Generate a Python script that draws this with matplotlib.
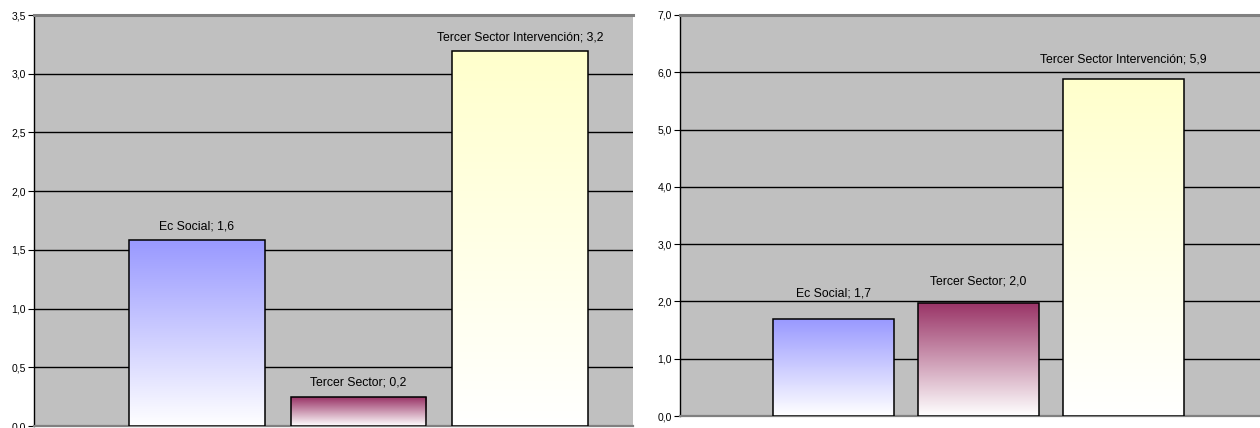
import numpy as np
import matplotlib
matplotlib.use("Agg")
import matplotlib.pyplot as plt
from matplotlib.ticker import MultipleLocator, FuncFormatter

plt.rcParams['font.family'] = ['Liberation Sans', 'DejaVu Sans']

categories = ["Ec Social", "Tercer Sector", "Tercer Sector Intervención"]
colors_top = ["#9999FF", "#993366", "#FFFFCC"]
left_values = [1.58, 0.245, 3.19]
right_values = [1.69, 1.98, 5.88]

fig = plt.figure(figsize=(12.6, 4.28), dpi=100)

def fmt(v, pos=None):
    return f"{v:.1f}".replace(".", ",")

def draw(ax, values, ymax, step, xlim, width, label_offsets):
    ax.set_facecolor("#C0C0C0")
    ax.set_ylim(0, ymax)
    ax.set_xlim(*xlim)
    ax.yaxis.set_major_locator(MultipleLocator(step))
    ax.yaxis.set_major_formatter(FuncFormatter(fmt))
    ax.grid(axis="y", color="black", linewidth=1.0, zorder=1)
    ax.set_axisbelow(True)
    ax.set_xticks([])
    ax.spines["right"].set_visible(False)
    ax.spines["top"].set_color("#808080")
    ax.spines["top"].set_linewidth(2.2)
    ax.spines["bottom"].set_color("#808080")
    ax.spines["bottom"].set_linewidth(1.6)
    ax.spines["left"].set_color("black")
    ax.spines["left"].set_linewidth(1.0)
    ax.tick_params(axis="y", direction="out", length=4, width=0.8,
                   labelsize=7.5, pad=2, colors="black")
    x = np.arange(len(values))
    bars = ax.bar(x, values, width=width, color="none", edgecolor="black",
                  linewidth=1.1, zorder=4)
    grad = np.linspace(0, 1, 256)[:, None]
    for b, c, v, cat, off in zip(bars, colors_top, values, categories, label_offsets):
        rgb = np.array(matplotlib.colors.to_rgb(c))
        img = (1 - grad)[..., None] * np.ones(3) + grad[..., None] * rgb
        img = img[::-1]
        x0 = b.get_x()
        im = ax.imshow(img, extent=[x0, x0 + b.get_width(), 0, v],
                       aspect="auto", zorder=3, interpolation="bilinear")
        im.set_clip_path(b)
        ax.annotate(f"{cat}; {fmt(v)}", (b.get_x() + b.get_width() / 2, v),
                    xytext=(0, off), textcoords="offset points",
                    ha="center", va="bottom", fontsize=8.8, zorder=5)
    ax.set_xlim(*xlim)
    ax.set_ylim(0, ymax)

ax1 = fig.add_axes([34 / 1260, 2 / 428, 599 / 1260, 411 / 428])
draw(ax1, left_values, 3.5, 0.5, (-1.009, 2.70), 0.84, [6, 6, 6])

ax2 = fig.add_axes([680 / 1260, 12 / 428, 580 / 1260, 401 / 428])
draw(ax2, right_values, 7.0, 1.0, (-1.059, 2.941), 0.834, [14.5, 11, 10])

fig.savefig("out.png", dpi=100)
